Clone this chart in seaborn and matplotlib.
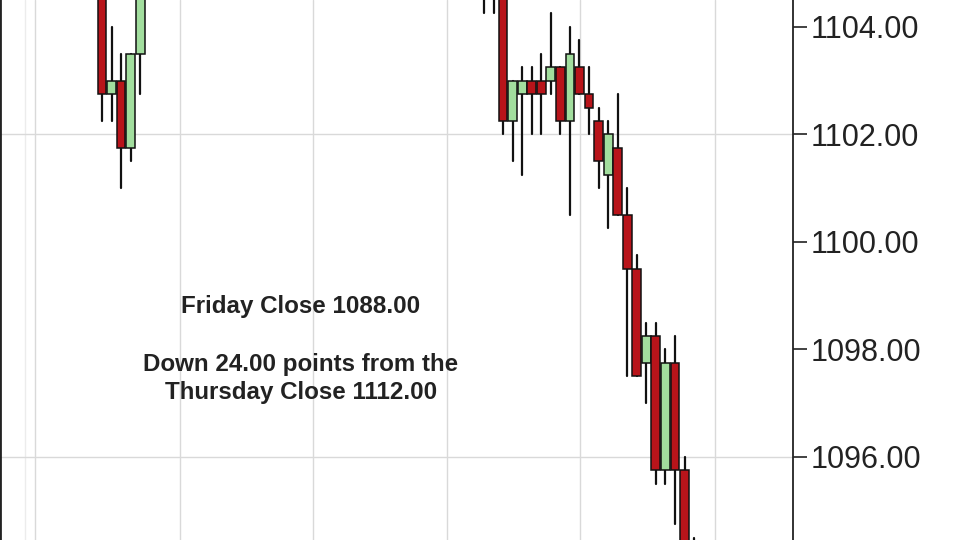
"""
Cropped intraday candlestick chart: Friday close vs Thursday close.
Saves out.png (960x540).
"""

import numpy as np
import pandas as pd
import matplotlib
matplotlib.use("Agg")
import matplotlib.pyplot as plt
import seaborn as sns

# candle slot index (time axis) and OHLC values
idx = [0, 1, 2, 3, 4,
       40, 41, 42, 43, 44, 45, 46, 47, 48, 49, 50,
       51, 52, 53, 54, 55, 56, 57, 58, 59, 60, 61, 62]
opens = [1105.25, 1102.75, 1103.00, 1101.75, 1103.50,
         1105.00, 1104.75, 1104.75, 1102.25, 1102.75, 1103.00, 1103.00, 1103.00, 1103.25, 1102.25, 1103.25,
         1102.75, 1102.25, 1101.25, 1101.75, 1100.50, 1099.50, 1097.75, 1098.25, 1095.75, 1097.75, 1095.75, 1094.00]
highs = [1105.50, 1104.00, 1103.50, 1103.50, 1105.50,
         1105.50, 1105.25, 1104.75, 1103.00, 1103.25, 1103.25, 1103.50, 1104.25, 1103.25, 1104.00, 1103.75,
         1103.25, 1102.50, 1102.25, 1102.75, 1101.00, 1099.75, 1098.50, 1098.50, 1098.00, 1098.25, 1096.00, 1094.50]
lows = [1102.25, 1102.25, 1101.00, 1101.50, 1102.75,
        1104.25, 1104.25, 1102.00, 1101.50, 1101.25, 1102.00, 1102.00, 1102.75, 1102.00, 1100.50, 1102.75,
        1102.00, 1101.00, 1100.25, 1100.50, 1097.50, 1097.50, 1097.00, 1095.50, 1095.50, 1094.75, 1093.75, 1093.25]
closes = [1102.75, 1103.00, 1101.75, 1103.50, 1105.25,
          1104.75, 1104.75, 1102.25, 1103.00, 1103.00, 1102.75, 1102.75, 1103.25, 1102.25, 1103.50, 1102.75,
          1102.50, 1101.50, 1102.00, 1100.50, 1099.50, 1097.50, 1098.25, 1095.75, 1097.75, 1095.75, 1094.00, 1093.50]

price_ticks = [1096, 1098, 1100, 1102, 1104]
hgrid = [1096, 1102]
vgrid = [-7.0, 8.2, 22.1, 36.1, 50.05, 64.2]

note_top = "Friday Close 1088.00"
note_mid = "Down 24.00 points from the"
note_bot = "Thursday Close 1112.00"

UP = "#a2de9e"
DOWN = "#b8141a"

sns.set_theme(style="white")
plt.rcParams["font.family"] = ["Liberation Sans", "DejaVu Sans"]

fig = plt.figure(figsize=(9.6, 5.4), dpi=100)
ax = fig.add_axes([0, 0, 793 / 960, 1])

# wicks through seaborn: one two-point line per candle
wick = pd.DataFrame({
    "slot": np.repeat(idx, 2),
    "price": np.ravel(np.column_stack([lows, highs])),
    "candle": np.repeat(np.arange(len(idx)), 2),
})
sns.lineplot(data=wick, x="slot", y="price", units="candle", estimator=None,
             sort=False, color="#111111", linewidth=1.6, ax=ax, zorder=2)

o = np.array(opens)
c = np.array(closes)
ax.bar(idx, np.abs(c - o), bottom=np.minimum(o, c), width=0.92,
       color=np.where(c >= o, UP, DOWN), edgecolor="#111111", linewidth=1.1, zorder=3)

for g in vgrid:
    ax.axvline(g, color="#d9d9d9", lw=1.0, zorder=0)
ax.axvline(-8.05, color="#ececec", lw=1.0, zorder=0)
for g in hgrid:
    ax.axhline(g, color="#d9d9d9", lw=1.0, zorder=0)

ax.set_xlim(-10.68, 72.36)
ax.set_ylim(1094.456, 1104.50)
ax.set_xticks([])
ax.set_yticks(price_ticks)
ax.set_yticklabels([f"{t:.2f}" for t in price_ticks])
ax.yaxis.tick_right()
ax.tick_params(axis="y", direction="out", length=10, width=1.2, pad=3,
               labelsize=22, color="#222222", labelcolor="#222222")
ax.set_xlabel("")
ax.set_ylabel("")

for side in ["top", "bottom"]:
    ax.spines[side].set_visible(False)
ax.spines["right"].set_color("#222222")
ax.spines["right"].set_linewidth(1.3)
ax.spines["left"].set_color("#222222")
ax.spines["left"].set_linewidth(2.0)

tx = 301 / 793
ax.text(tx, 1 - 307 / 540, note_top, transform=ax.transAxes, ha="center", va="center",
        fontsize=17.4, fontweight="bold", color="#222222")
ax.text(tx, 1 - 364 / 540, note_mid, transform=ax.transAxes, ha="center", va="center",
        fontsize=17.4, fontweight="bold", color="#222222")
ax.text(tx, 1 - 393 / 540, note_bot, transform=ax.transAxes, ha="center", va="center",
        fontsize=17.4, fontweight="bold", color="#222222")

fig.savefig("out.png", dpi=100)
